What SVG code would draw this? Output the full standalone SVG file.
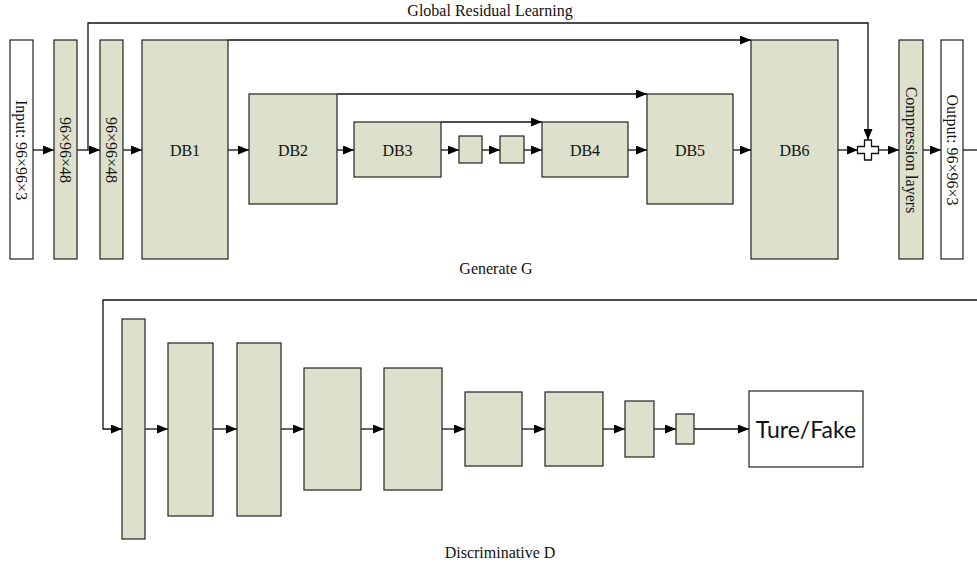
<svg xmlns="http://www.w3.org/2000/svg" width="977" height="568" viewBox="0 0 977 568">
<defs>
<marker id="ah" markerUnits="userSpaceOnUse" markerWidth="11" markerHeight="9" refX="11" refY="4.5" orient="auto">
<path d="M0,0 L11,4.5 L0,9 z" fill="#000"/>
</marker>
<style>
.blk{fill:#DDE0CA;stroke:#222;stroke-width:1.2}
.wht{fill:#fff;stroke:#222;stroke-width:1.2}
.t{font-family:"Liberation Serif","Times New Roman",serif;font-size:16px;fill:#111;text-anchor:middle;dominant-baseline:central}
.cap{font-family:"Liberation Serif","Times New Roman",serif;font-size:16px;fill:#111;text-anchor:middle}
.ln{fill:none;stroke:#111;stroke-width:1.3}
.ar{fill:none;stroke:#111;stroke-width:1.3;marker-end:url(#ah)}
</style>
</defs>
<rect width="977" height="568" fill="#fff"/>

<text class="cap" x="490" y="16">Global Residual Learning</text>
<text class="cap" x="496" y="274">Generate G</text>
<text class="cap" x="500" y="558">Discriminative D</text>

<g id="connectors">
<path class="ar" d="M33,150 H54"/>
<path class="ar" d="M77,150 H100"/>
<path class="ar" d="M123,150 H142"/>
<path class="ar" d="M228,150 H249"/>
<path class="ar" d="M337,150 H354"/>
<path class="ar" d="M441,150 H459"/>
<path class="ar" d="M482,150 H500"/>
<path class="ar" d="M524,150 H542"/>
<path class="ar" d="M628,150 H647"/>
<path class="ar" d="M733,150 H751"/>
<path class="ar" d="M838,150 H858"/>
<path class="ar" d="M879,150 H899"/>
<path class="ar" d="M923,150 H941"/>
<path class="ln" d="M963,150 H977"/>
<path class="ar" d="M88,150 V23 H868 V140"/>
<path class="ar" d="M228,40 H751"/>
<path class="ar" d="M337,94 H647"/>
<path class="ar" d="M441,122 H542"/>
<path class="ar" d="M977,300 H103 V429 H122"/>
<path class="ar" d="M145,429 H168"/>
<path class="ar" d="M213,429 H237"/>
<path class="ar" d="M281,429 H304"/>
<path class="ar" d="M361,429 H384"/>
<path class="ar" d="M442,429 H465"/>
<path class="ar" d="M522,429 H545"/>
<path class="ar" d="M603,429 H625"/>
<path class="ar" d="M654,429 H676"/>
<path class="ar" d="M694,429 H749"/>
</g>

<g id="input"><rect class="wht" x="10" y="40" width="23" height="219"/><text class="t" transform="translate(21.5,150) rotate(90)">Input: 96×96×3</text></g>
<g id="conv1"><rect class="blk" x="54" y="40" width="23" height="219"/><text class="t" transform="translate(65.5,150) rotate(90)">96×96×48</text></g>
<g id="conv2"><rect class="blk" x="100" y="40" width="23" height="219"/><text class="t" transform="translate(111.5,150) rotate(90)">96×96×48</text></g>
<g id="db1"><rect class="blk" x="142" y="40" width="86" height="219"/><text class="t" x="185" y="150">DB1</text></g>
<g id="db2"><rect class="blk" x="249" y="94" width="88" height="110"/><text class="t" x="293" y="150">DB2</text></g>
<g id="db3"><rect class="blk" x="354" y="122" width="87" height="55"/><text class="t" x="397.5" y="150">DB3</text></g>
<g id="s1"><rect class="blk" x="459" y="136" width="23" height="27"/></g>
<g id="s2"><rect class="blk" x="500" y="136" width="24" height="27"/></g>
<g id="db4"><rect class="blk" x="542" y="122" width="86" height="55"/><text class="t" x="585" y="150">DB4</text></g>
<g id="db5"><rect class="blk" x="647" y="94" width="86" height="110"/><text class="t" x="690" y="150">DB5</text></g>
<g id="db6"><rect class="blk" x="751" y="40" width="87" height="219"/><text class="t" x="794.5" y="150">DB6</text></g>
<g id="plus"><path d="M864.5,140 H871.5 V146.5 H878.5 V153.5 H871.5 V160 H864.5 V153.5 H857.5 V146.5 H864.5 Z" fill="#fff" stroke="#111" stroke-width="1.3"/></g>
<g id="compression"><rect class="blk" x="899" y="40" width="24" height="219"/><text class="t" transform="translate(911,150) rotate(90)">Compression layers</text></g>
<g id="output"><rect class="wht" x="941" y="40" width="22" height="219"/><text class="t" transform="translate(952,150) rotate(90)">Output: 96×96×3</text></g>

<g id="d1"><rect class="blk" x="122" y="319" width="23" height="220"/></g>
<g id="d2"><rect class="blk" x="168" y="343" width="45" height="173"/></g>
<g id="d3"><rect class="blk" x="237" y="343" width="44" height="173"/></g>
<g id="d4"><rect class="blk" x="304" y="368" width="57" height="122"/></g>
<g id="d5"><rect class="blk" x="384" y="368" width="58" height="122"/></g>
<g id="d6"><rect class="blk" x="465" y="392" width="57" height="74"/></g>
<g id="d7"><rect class="blk" x="545" y="392" width="58" height="74"/></g>
<g id="d8"><rect class="blk" x="625" y="401" width="29" height="56"/></g>
<g id="d9"><rect class="blk" x="676" y="414" width="18" height="30"/></g>
<g id="result"><rect class="wht" x="749" y="391" width="114" height="76"/><text x="806" y="429" font-family="Lato,'Open Sans',sans-serif" font-size="23" fill="#111" text-anchor="middle" dominant-baseline="central">Ture/Fake</text></g>
</svg>
